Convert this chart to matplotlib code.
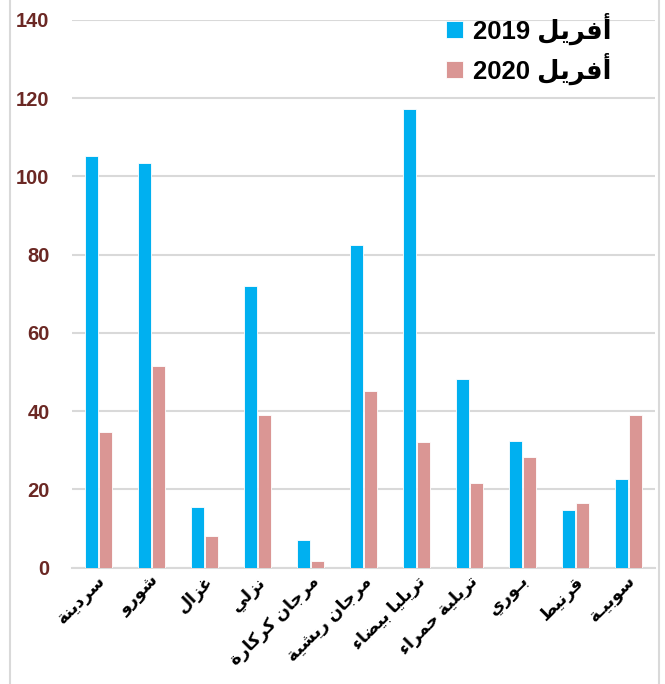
import matplotlib
matplotlib.use("Agg")
import matplotlib.pyplot as plt
from matplotlib.lines import Line2D
import numpy as np

# data
categories = ["سردينة", "شورو", "غزال", "نزلي", "مرجان كركارة", "مرجان ريشية",
              "تريليا بيضاء", "تريلية حمراء", "بـوري", "قرنيط", "سوبيـة"]
april_2019 = [105.3, 103.5, 15.6, 72.0, 7.0, 82.4, 117.2, 48.3, 32.3, 14.8, 22.6]
april_2020 = [34.7, 51.6, 8.0, 39.0, 1.8, 45.1, 32.1, 21.7, 28.3, 16.6, 39.1]
legend_labels = ["أفريل 2019", "أفريل 2020"]
yticks = [0, 20, 40, 60, 80, 100, 120, 140]

# --- tiny arabic shaper (matplotlib has no bidi / shaping) ---
FORMS = {
    "ء": ("\ufe80", None, None, None),
    "أ": ("\ufe83", "\ufe84", None, None),
    "ا": ("\ufe8d", "\ufe8e", None, None),
    "ب": ("\ufe8f", "\ufe90", "\ufe91", "\ufe92"),
    "ة": ("\ufe93", "\ufe94", None, None),
    "ت": ("\ufe95", "\ufe96", "\ufe97", "\ufe98"),
    "ج": ("\ufe9d", "\ufe9e", "\ufe9f", "\ufea0"),
    "ح": ("\ufea1", "\ufea2", "\ufea3", "\ufea4"),
    "د": ("\ufea9", "\ufeaa", None, None),
    "ر": ("\ufead", "\ufeae", None, None),
    "ز": ("\ufeaf", "\ufeb0", None, None),
    "س": ("\ufeb1", "\ufeb2", "\ufeb3", "\ufeb4"),
    "ش": ("\ufeb5", "\ufeb6", "\ufeb7", "\ufeb8"),
    "ض": ("\ufebd", "\ufebe", "\ufebf", "\ufec0"),
    "ط": ("\ufec1", "\ufec2", "\ufec3", "\ufec4"),
    "غ": ("\ufecd", "\ufece", "\ufecf", "\ufed0"),
    "ف": ("\ufed1", "\ufed2", "\ufed3", "\ufed4"),
    "ق": ("\ufed5", "\ufed6", "\ufed7", "\ufed8"),
    "ك": ("\ufed9", "\ufeda", "\ufedb", "\ufedc"),
    "ل": ("\ufedd", "\ufede", "\ufedf", "\ufee0"),
    "م": ("\ufee1", "\ufee2", "\ufee3", "\ufee4"),
    "ن": ("\ufee5", "\ufee6", "\ufee7", "\ufee8"),
    "و": ("\ufeed", "\ufeee", None, None),
    "ي": ("\ufef1", "\ufef2", "\ufef3", "\ufef4"),
    "ـ": ("ـ", "ـ", "ـ", "ـ"),
}


def joins_next(c):
    return c in FORMS and FORMS[c][2] is not None


def joins_prev(c):
    return c in FORMS and FORMS[c][1] is not None


def shape(word):
    out = []
    for i, c in enumerate(word):
        if c not in FORMS:
            out.append(c)
            continue
        prev = word[i - 1] if i > 0 else ""
        nxt = word[i + 1] if i < len(word) - 1 else ""
        p = joins_next(prev) and joins_prev(c)
        n = joins_next(c) and joins_prev(nxt)
        iso, fin, ini, med = FORMS[c]
        if p and n:
            out.append(med)
        elif p:
            out.append(fin)
        elif n:
            out.append(ini)
        else:
            out.append(iso)
    return "".join(out)


def rtl(text):
    return shape(text)[::-1]


def rtl_legend(text):
    word, year = text.split(" ")
    return year + " " + rtl(word)


blue = "#00B0F0"
pink = "#DA9694"
fonts = ["Liberation Sans", "DejaVu Sans"]

fig = plt.figure(figsize=(6.65, 6.84), dpi=100)
ax = fig.add_axes([0.108, 0.170, 0.877, 0.801])

x = np.arange(len(categories))
w = 0.25
ax.bar(x - 0.13, april_2019, w, color=blue, edgecolor="white", linewidth=0.6,
       label=rtl_legend(legend_labels[0]), zorder=3)
ax.bar(x + 0.13, april_2020, w, color=pink, edgecolor="white", linewidth=0.6,
       label=rtl_legend(legend_labels[1]), zorder=3)

ax.set_xlim(-0.5, len(categories) - 0.5)
ax.set_ylim(0, 140)
ax.set_yticks(yticks)
ax.set_yticklabels([str(t) for t in yticks], fontsize=14.5, fontweight="bold",
                   color="#6B2824", family=fonts)
ax.tick_params(axis="y", length=0, pad=16)
ax.tick_params(axis="x", length=0, pad=4)
ax.set_xticks(x)
ax.set_xticklabels([rtl(c) for c in categories], rotation=45, ha="right",
                   va="top", rotation_mode="anchor", fontsize=12.5,
                   fontweight="bold", family=fonts)

ax.grid(axis="y", color="#D9D9D9", linewidth=1.5, zorder=0)
for s in ["top", "right", "left"]:
    ax.spines[s].set_visible(False)
ax.spines["bottom"].set_color("#D9D9D9")
ax.spines["bottom"].set_linewidth(1.5)

ax.legend(loc="upper right", bbox_to_anchor=(0.965, 1.055), frameon=False,
          prop={"family": fonts, "weight": "bold", "size": 18.5},
          handlelength=0.65, handleheight=0.65, handletextpad=0.4,
          labelspacing=0.3)

# outer frame lines of the original chart box
fig.add_artist(Line2D([0.015, 0.015], [0, 1], color="#D9D9D9", lw=1.5,
                      transform=fig.transFigure))
fig.add_artist(Line2D([0.991, 0.991], [0, 1], color="#D9D9D9", lw=1.5,
                      transform=fig.transFigure))

fig.savefig("out.png", dpi=100)
